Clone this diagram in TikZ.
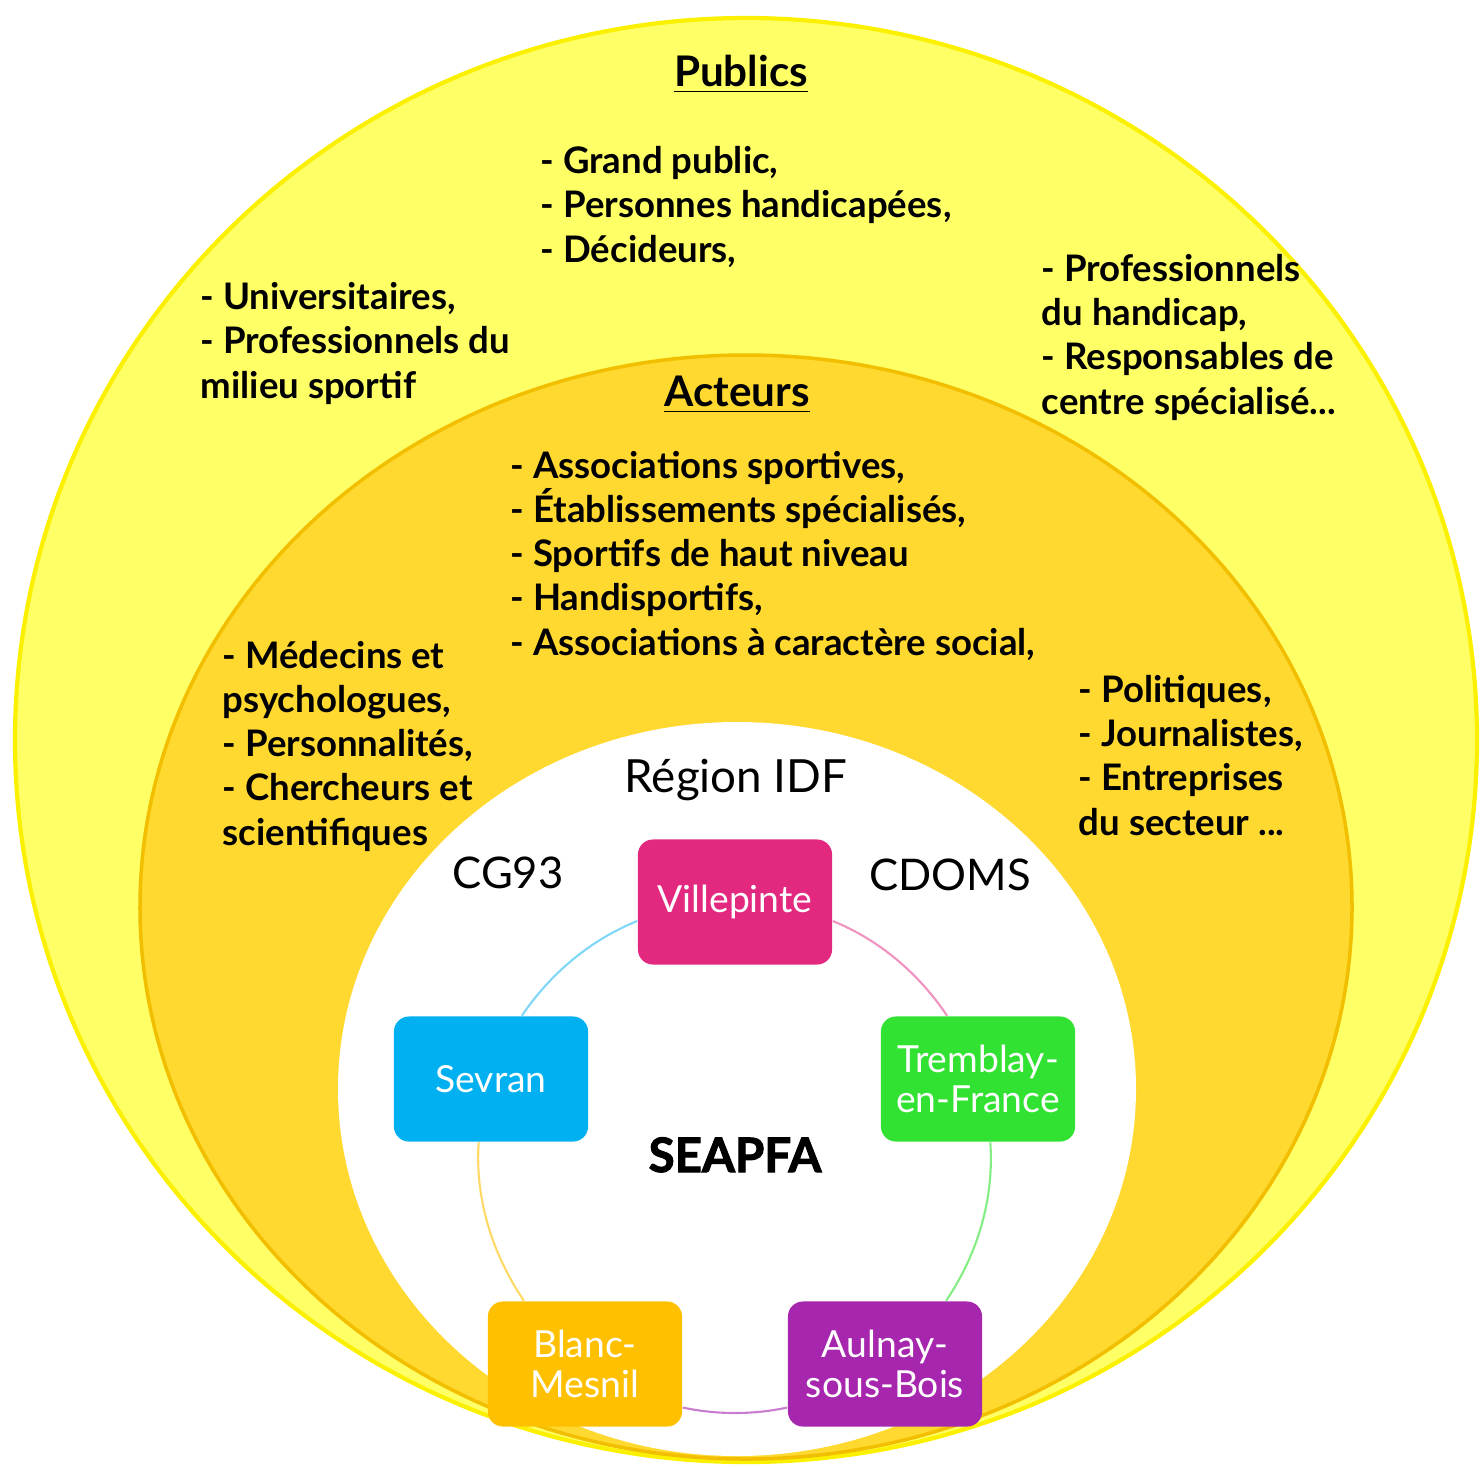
\documentclass[tikz,border=0pt]{standalone}
\usepackage{fontspec}
\setmainfont{Lato}
\usetikzlibrary{arrows,shapes}
\definecolor{publicfill}{RGB}{255,255,102}
\definecolor{publicedge}{RGB}{250,240,0}
\definecolor{acteurfill}{RGB}{255,217,47}
\definecolor{acteuredge}{RGB}{242,190,0}
\definecolor{vilcol}{RGB}{227,40,127}
\definecolor{sevcol}{RGB}{0,176,240}
\definecolor{trecol}{RGB}{50,226,50}
\definecolor{blacol}{RGB}{255,192,0}
\definecolor{aulcol}{RGB}{166,38,174}
\tikzstyle{ville}=[rectangle,rounded corners=0.15cm,minimum width=1.94cm,minimum height=1.25cm,inner sep=0pt,text=white,align=center,font=\fontsize{10.6}{11.4}\selectfont]
\tikzstyle{liste}=[anchor=base west,align=left,inner sep=0pt,font=\fontsize{10.4}{12.52}\bfseries]
\tikzstyle{titre}=[anchor=base,inner sep=0pt,font=\fontsize{12.4}{15}\selectfont]
\tikzstyle{lien}=[draw,line width=0.6pt,-]

\begin{document}
\begin{tikzpicture}[x=0.01cm,y=-0.01cm]
      \useasboundingbox (0,0) rectangle (1482,1466);
      \fill[publicfill,draw=publicedge,line width=1.2pt] (746,740) ellipse [x radius=731,y radius=722];
      \fill[acteurfill,draw=acteuredge,line width=1pt] (746,907) ellipse [x radius=606,y radius=552];
      \fill[white] (737,1089) ellipse [x radius=399,y radius=367];
      % publics (base = last line)
      \node[titre,font=\fontsize{12}{15}\bfseries] (publics) at (741,86) {\underline{Publics}};
      \node[liste] (grand) at (540,262) {- Grand public,\\- Personnes handicapées,\\- Décideurs,};
      \node[liste] (univ) at (200,398) {- Universitaires,\\- Professionnels du\\milieu sportif};
      \node[liste] (prof) at (1041,414) {- Professionnels\\du handicap,\\- Responsables de\\centre spécialisé...};
      % acteurs
      \node[titre,font=\fontsize{12}{15}\bfseries] (acteurs) at (737,406) {\underline{Acteurs}};
      \node[liste] (assoc) at (510,655) {- Associations sportives,\\- Établissements spécialisés,\\- Sportifs de haut niveau\\- Handisportifs,\\- Associations à caractère social,};
      \node[liste] (medecins) at (222,845) {- Médecins et\\psychologues,\\- Personnalités,\\- Chercheurs et\\scientifiques};
      \node[liste] (politiques) at (1078,835) {- Politiques,\\- Journalistes,\\- Entreprises\\du secteur ...};
      % partenaires
      \node[titre,font=\fontsize{13}{15}\selectfont] (region) at (736,792) {Région IDF};
      \node[titre] (cg) at (508,888) {CG93};
      \node[titre] (cdoms) at (950,890) {CDOMS};
      \node[titre,font=\fontsize{13.5}{16}\bfseries\addfontfeatures{FakeBold=2}] (seapfa) at (735,1172) {SEAPFA};
      % villes
      \node[ville,fill=vilcol] (vil) at (735,902) {Villepinte};
      \node[ville,fill=trecol] (tre) at (978,1079) {Tremblay-\\en-France};
      \node[ville,fill=aulcol] (aul) at (885,1364) {Aulnay-\\sous-Bois};
      \node[ville,fill=blacol] (bla) at (585,1364) {Blanc-\\Mesnil};
      \node[ville,fill=sevcol] (sev) at (491,1079) {Sevran};
      \draw[lien,vilcol!50] (vil.-11) to[out=-22,in=124,looseness=0.87] (tre.116);
      \draw[lien,trecol!60] (tre.-79) to[out=-86,in=56,looseness=0.88] (aul.46);
      \draw[lien,aulcol!60] (aul.-156) to[out=192,in=-12,looseness=0.86] (bla.-24);
      \draw[lien,blacol!60] (bla.134) to[out=124,in=-94,looseness=0.88] (sev.-101);
      \draw[lien,sevcol!50] (sev.64) to[out=56,in=-158,looseness=0.87] (vil.-169);
\end{tikzpicture}
\end{document}
